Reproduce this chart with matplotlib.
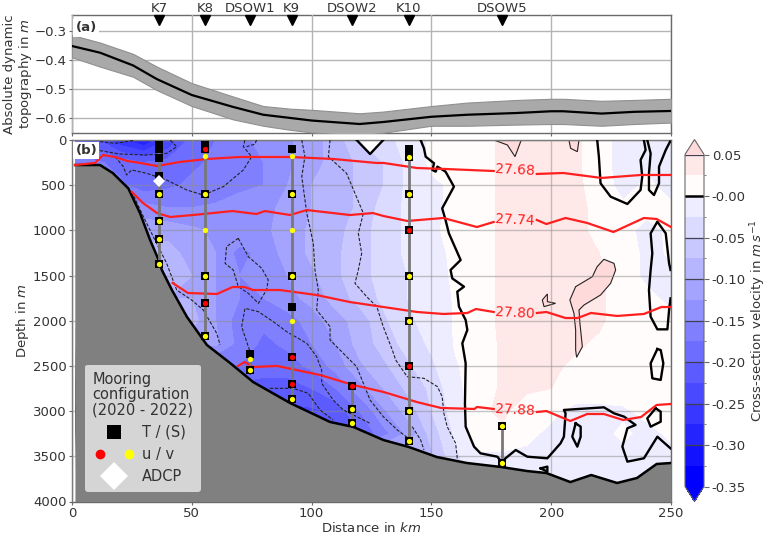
import numpy as np
import matplotlib
matplotlib.use('Agg')
import matplotlib.pyplot as plt
from matplotlib.colors import BoundaryNorm, ListedColormap
from matplotlib.legend_handler import HandlerTuple
from matplotlib.lines import Line2D
from matplotlib.ticker import FormatStrFormatter

#
## Panel (a): absolute dynamic topography along the section
#
adt_x = [0, 11.7, 25.5, 35.4, 50, 67.2, 79.8, 91, 100, 120, 130, 150, 165, 185.7, 200, 205, 221, 234.6, 250]
adt_mean = [-0.353, -0.376, -0.42, -0.467, -0.522, -0.563, -0.59, -0.601, -0.61, -0.622, -0.615, -0.597,
            -0.59, -0.584, -0.578, -0.578, -0.586, -0.58, -0.577]
adt_upper = [-0.315, -0.341, -0.38, -0.424, -0.481, -0.527, -0.56, -0.569, -0.573, -0.585, -0.579, -0.56,
             -0.548, -0.539, -0.535, -0.535, -0.542, -0.539, -0.535]
adt_lower = [-0.392, -0.424, -0.459, -0.505, -0.56, -0.606, -0.628, -0.642, -0.651, -0.662, -0.652, -0.628,
             -0.628, -0.624, -0.622, -0.622, -0.628, -0.622, -0.617]

#
## Panel (b): cross-section velocity, one list per depth
#
vel_x = [1.5, 10, 20, 30, 40, 50, 60, 70, 80, 90, 100, 110, 120, 130, 140, 150, 160, 170, 180, 190, 200, 210, 220, 230, 240, 250]
vel_depth = [0, 250, 500, 750, 1000, 1250, 1500, 1750, 2000, 2250, 2500, 2750, 3000, 3250, 3500, 3750, 4000]
vel_0000 = [-0.19, -0.22, -0.27, -0.30, -0.25, -0.19, -0.175, -0.155, -0.145, -0.13, -0.11, -0.09, -0.05, -0.03, -0.02, 0.005, 0.008, 0.015, 0.03, 0.03, 0.03, 0.03, 0.01, -0.01, -0.005, -0.01]
vel_0250 = [-0.17, -0.17, -0.185, -0.20, -0.19, -0.18, -0.17, -0.16, -0.15, -0.13, -0.11, -0.09, -0.07, -0.05, -0.02, 0.005, 0.008, 0.015, 0.03, 0.03, 0.03, 0.03, 0.01, -0.01, -0.005, -0.01]
vel_0500 = [-0.17, -0.17, -0.17, -0.19, -0.18, -0.17, -0.17, -0.155, -0.15, -0.125, -0.10, -0.09, -0.07, -0.05, -0.02, -0.005, 0.005, 0.015, 0.03, 0.03, 0.03, 0.03, 0.015, -0.01, 0.005, -0.01]
vel_0750 = [-0.14, -0.14, -0.14, -0.14, -0.15, -0.15, -0.145, -0.14, -0.13, -0.12, -0.10, -0.09, -0.07, -0.04, -0.02, -0.005, 0.005, 0.015, 0.03, 0.03, 0.03, 0.03, 0.02, 0.005, 0.005, 0.005]
vel_1000 = [-0.11, -0.11, -0.11, -0.11, -0.11, -0.12, -0.13, -0.13, -0.13, -0.115, -0.095, -0.085, -0.06, -0.04, -0.02, -0.003, 0.005, 0.015, 0.03, 0.03, 0.03, 0.03, 0.02, 0.005, -0.005, 0.003]
vel_1250 = [-0.09, -0.09, -0.09, -0.09, -0.09, -0.11, -0.125, -0.16, -0.14, -0.115, -0.095, -0.08, -0.06, -0.04, -0.02, -0.005, 0.003, 0.015, 0.03, 0.03, 0.03, 0.03, 0.025, 0.01, -0.005, 0.002]
vel_1500 = [-0.08, -0.08, -0.08, -0.08, -0.08, -0.10, -0.125, -0.15, -0.145, -0.125, -0.105, -0.08, -0.06, -0.04, -0.025, -0.008, 0.003, 0.015, 0.03, 0.03, 0.03, 0.03, 0.03, 0.01, -0.005, -0.003]
vel_1750 = [-0.10, -0.10, -0.10, -0.10, -0.10, -0.10, -0.125, -0.15, -0.15, -0.135, -0.115, -0.09, -0.065, -0.045, -0.025, -0.012, 0.002, 0.015, 0.03, 0.03, 0.03, 0.03, 0.03, 0.01, 0.005, -0.005]
vel_2000 = [-0.09, -0.09, -0.09, -0.09, -0.09, -0.09, -0.125, -0.165, -0.17, -0.16, -0.14, -0.11, -0.09, -0.055, -0.03, -0.015, 0.002, 0.015, 0.03, 0.03, 0.03, 0.03, 0.03, 0.01, 0.01, 0.005]
vel_2250 = [-0.12, -0.12, -0.12, -0.12, -0.12, -0.12, -0.12, -0.16, -0.18, -0.17, -0.15, -0.125, -0.09, -0.065, -0.04, -0.02, 0.002, 0.01, 0.03, 0.03, 0.03, 0.03, 0.02, 0.01, 0.01, 0.005]
vel_2500 = [-0.18, -0.18, -0.18, -0.18, -0.18, -0.18, -0.18, -0.175, -0.19, -0.185, -0.17, -0.14, -0.105, -0.08, -0.055, -0.03, -0.002, 0.01, 0.03, 0.03, 0.03, 0.02, 0.01, 0.01, 0.01, 0.005]
vel_2750 = [-0.21, -0.21, -0.21, -0.21, -0.21, -0.21, -0.21, -0.21, -0.21, -0.215, -0.20, -0.175, -0.135, -0.10, -0.07, -0.045, -0.005, 0.01, 0.03, 0.03, 0.025, 0.01, 0.01, 0.01, 0.01, 0.005]
vel_3000 = [-0.23, -0.23, -0.23, -0.23, -0.23, -0.23, -0.23, -0.23, -0.23, -0.23, -0.23, -0.22, -0.175, -0.13, -0.09, -0.05, -0.012, 0.02, 0.03, 0.008, 0.005, -0.005, -0.005, -0.003, 0.005, 0.005]
vel_3250 = [-0.20, -0.20, -0.20, -0.20, -0.20, -0.20, -0.20, -0.20, -0.20, -0.20, -0.20, -0.20, -0.20, -0.16, -0.12, -0.065, -0.02, 0.02, 0.02, 0.005, -0.005, -0.005, -0.005, 0.003, -0.005, 0.003]
vel_3500 = [-0.08, -0.08, -0.08, -0.08, -0.08, -0.08, -0.08, -0.08, -0.08, -0.08, -0.08, -0.08, -0.08, -0.08, -0.08, -0.08, -0.03, -0.005, -0.005, -0.005, -0.01, -0.01, -0.01, -0.005, -0.005, -0.005]
vel_3750 = [-0.03, -0.03, -0.03, -0.03, -0.03, -0.03, -0.03, -0.03, -0.03, -0.03, -0.03, -0.03, -0.03, -0.03, -0.03, -0.03, -0.03, -0.01, -0.01, -0.01, -0.01, -0.01, -0.01, -0.01, -0.01, -0.01]
vel_4000 = [-0.03, -0.03, -0.03, -0.03, -0.03, -0.03, -0.03, -0.03, -0.03, -0.03, -0.03, -0.03, -0.03, -0.03, -0.03, -0.03, -0.03, -0.01, -0.01, -0.01, -0.01, -0.01, -0.01, -0.01, -0.01, -0.01]
vel_rows = [vel_0000, vel_0250, vel_0500, vel_0750, vel_1000, vel_1250, vel_1500, vel_1750, vel_2000,
            vel_2250, vel_2500, vel_2750, vel_3000, vel_3250, vel_3500, vel_3750, vel_4000]

# Bathymetry
bathy_x = [1.3, 11.7, 17, 23.5, 28.4, 32.6, 36.7, 37.5, 41.7, 48, 56.3, 66, 75.6, 91, 107.7, 117.4, 130, 140.6,
           152.3, 164.8, 179, 190, 198, 208, 216.7, 227.5, 235.8, 244, 250]
bathy_depth = [277, 277, 365, 535, 810, 1107, 1361, 1438, 1660, 1958, 2268, 2468, 2678, 2910, 3120, 3175, 3320,
               3397, 3508, 3574, 3618, 3663, 3685, 3785, 3707, 3795, 3740, 3585, 3574]

# Isopycnals, the nan is the gap for the inline label
iso_labels = ['27.68', '27.74', '27.80', '27.88']
iso_label_depth = [332, 885, 1914, 2988]
iso_label_x = 185
iso_x = [
    [1.3, 9.6, 13, 18, 23, 28.4, 35.5, 45, 56.3, 70, 91, 109, 127, 130, 144, 155, 176, np.nan, 194, 205, 221, 237.5, 250],
    [25, 29.6, 35.5, 41, 50.5, 67, 77, 80.5, 91, 98, 116, 125.6, 130, 140, 155, 169, 176, np.nan, 194, 198, 206, 215, 226, 238.7, 244, 250],
    [42, 48.4, 60.5, 67, 72, 75.6, 86.8, 102, 116, 130, 144, 155, 165, 168.6, 176, np.nan, 194, 198, 206, 211, 216.6, 227.5, 238.7, 246, 250],
    [69.3, 72, 75.6, 85.6, 103.5, 117.4, 130, 144, 154, 168, 169, 176, np.nan, 194, 198, 208, 215, 222, 230, 237.5, 244, 250],
]
iso_depth = [
    [277, 254, 166, 188, 232, 254, 288, 243, 210, 188, 188, 210, 254, 254, 310, 320, 343, np.nan, 376, 365, 420, 387, 387],
    [575, 697, 808, 852, 830, 786, 819, 786, 830, 775, 830, 808, 841, 896, 863, 963, 907, np.nan, 885, 930, 863, 918, 1018, 863, 874, 963],
    [1582, 1693, 1704, 1627, 1627, 1660, 1660, 1715, 1793, 1848, 1903, 1925, 1914, 1870, 1903, np.nan, 1914, 1903, 1970, 1970, 1914, 1947, 1925, 1848, 1848],
    [2500, 2456, 2512, 2500, 2600, 2711, 2788, 2900, 2965, 2976, 2954, 2976, np.nan, 3010, 2999, 3109, 3032, 3032, 3098, 3065, 2932, 2921],
]

# Dashed velocity contours as (km, m)
dashed_contours = [
    [(11.7, 18), (18, 37), (25.6, 7)],
    [(3.3, 92), (11.7, 118), (20, 155), (31.2, 166), (39.5, 148), (43.7, 74), (40.9, 0)],
    [(18, 184), (21.4, 295), (22.8, 387), (24.9, 332), (31.2, 369), (39.5, 443), (47.9, 553), (54.8, 609),
     (63.2, 516), (71.5, 332), (75, 184), (71.5, 74), (72.2, 0)],
    [(77, 0), (76.4, 44), (72.9, 74)],
    [(24.9, 572), (29.8, 848), (35.3, 1143), (39.5, 1365), (43.7, 1660), (49.9, 1770), (54.8, 1881), (60.4, 2139), (61.8, 2268)],
    [(69.4, 1088), (73.6, 1291), (79.2, 1420), (81.9, 1549), (81.2, 1660), (77.8, 1807), (73.6, 1697), (69.4, 1623),
     (67.3, 1438), (63.9, 1365), (64.5, 1180), (69.4, 1088)],
    [(74.3, 2600), (75, 2397), (73.6, 2287), (70.8, 2065), (72.2, 1863), (77.8, 1900), (84, 2010), (89.6, 2121), (98, 2250),
     (102.1, 2397), (104.2, 2545), (104.2, 2692), (109, 2877), (113.2, 2987), (124.4, 3135)],
    [(82.6, 2748), (92.4, 2748), (98.6, 2803), (103.5, 2987), (109, 3098)],
    [(95.9, 0), (97.2, 184), (95.9, 406), (98, 811), (100.7, 1143), (101.4, 1438), (102.8, 1660), (102.1, 1881), (107.7, 2065),
     (107.7, 2213), (114.6, 2397), (118.8, 2508), (121.6, 2692), (124.4, 2877), (129.9, 3061), (135.8, 3209), (141.3, 3319)],
    [(107.7, 0), (107, 184), (114.6, 369), (121.6, 811), (119.5, 1033), (120.9, 1254), (119.5, 1438), (118.1, 1586), (123, 1734),
     (127.2, 1844), (129.9, 2065), (133.7, 2324), (135.1, 2434), (139.9, 2619), (146.9, 2637), (152.5, 2729), (154.5, 2840),
     (155.2, 3024), (156.6, 3172), (160.1, 3356), (160.8, 3522)],
    [(142, 3172), (145.5, 3319), (146.9, 3430)],
]

# Zero contour as (km, m)
zero_contours = [
    [(118.8, 0), (124.4, 155), (129.9, 0)],
    [(145.5, 0), (146.9, 92), (147.6, 184), (151.1, 258), (150.4, 332), (151.8, 350), (152.5, 295), (155.9, 350), (159.4, 516),
     (154.5, 756), (155.9, 885), (157.3, 1033), (162.2, 1328), (158, 1438), (158.7, 1531), (163.6, 1623), (160.8, 1678),
     (161.5, 1844), (164.3, 1992), (165, 2102), (162.9, 2250), (164.3, 2471), (164, 2914), (164.3, 3172), (167.8, 3393),
     (170.5, 3467), (177.5, 3504), (179.2, 3559), (185.2, 3430), (190, 3504), (198.4, 3522), (203.9, 3356), (205.3, 3283),
     (206, 3024), (205.3, 2987), (222, 2958), (226.2, 3024), (230.4, 3061), (235.2, 3153), (231.8, 3190), (229.7, 3393),
     (231.8, 3559), (238.7, 3522), (244.3, 3283), (249.8, 3412)],
    [(219.2, 0), (219.9, 184), (220.6, 479), (224.8, 627), (231.8, 708), (237.3, 553), (238, 406), (237.3, 221), (239.4, 111), (238.7, 0)],
    [(240.1, 0), (241.5, 148), (240.8, 369), (240.8, 553), (242.9, 609), (245, 479), (245, 295), (247.8, 111), (249.6, 18)],
    [(249.8, 1752), (249.2, 1881), (248.5, 2095), (244.3, 2095), (241.5, 1955), (240.8, 1660), (241.5, 1438), (242.2, 1254),
     (241.5, 1033), (244.3, 904), (247.8, 1033), (249.2, 1365), (249.8, 1438)],
    [(244.3, 2313), (241.5, 2471), (242.2, 2637), (245.7, 2655), (246.8, 2471), (245.7, 2324), (244.3, 2313)],
    [(243.6, 2969), (240.1, 3080), (241.5, 3172), (245.7, 3117), (245.7, 3006), (243.6, 2969)],
    [(210.2, 3135), (208.8, 3283), (210.9, 3393), (212.3, 3283), (212.3, 3172), (210.2, 3135)],
    [(195.6, 3633), (198.4, 3614), (198.4, 3670), (195.6, 3633)],
]

# Patches above the top level, thin outline and over colour
pink_patches = [
    [(219.2, 1401), (222, 1320), (226.2, 1365), (226.9, 1438), (224.8, 1586), (220.6, 1715), (213.7, 1826), (211.6, 1881),
     (212, 2029), (213, 2287), (210.6, 2405), (210.2, 2324), (210.2, 2102), (209.5, 1918), (207.8, 1770), (210.2, 1623),
     (217.2, 1512), (218.5, 1438)],
    [(198.4, 1704), (196.3, 1770), (197, 1844), (201.8, 1807), (198.4, 1789)],
    [(176.1, 0), (181.7, 55), (184.9, 184), (187.5, 0)],
    [(207.4, 0), (208.1, 92), (210.9, 129), (211.6, 0)],
]
notch = [(118.8, 0), (124.4, 155), (129.9, 0)]

# Moorings
mooring_names = ['K7', 'K8', 'DSOW1', 'K9', 'DSOW2', 'K10', 'DSOW5']
mooring_x = [36.4, 55.6, 74.3, 91.7, 116.7, 140.6, 179.3]
t_depths = [
    [50, 100, 200, 400, 600, 900, 1100, 1370],
    [50, 100, 600, 1500, 1800, 2170],
    [2370, 2550],
    [100, 600, 1500, 1850, 2400, 2700, 2870],
    [2720, 2980, 3130],
    [100, 190, 600, 1000, 1500, 2000, 2500, 3000, 3330],
    [3170, 3570],
]
u_depths = [[], [100, 1800], [], [2400, 2700], [2720], [1000, 2500], []]
v_depths = [
    [600, 900, 1100, 1370],
    [180, 600, 1000, 1500, 2170],
    [2420, 2550],
    [180, 600, 1000, 1500, 2000, 2870],
    [2980, 3130],
    [190, 600, 1500, 2000, 3000, 3330],
    [3170, 3570],
]
adcp_x = [36.4]
adcp_depth = [450]

levels = np.arange(-0.35, 0.0501, 0.025)
textcol = '#333333'
spinecol = '#6a6a6a'
gridcol = '#b4b4b4'

plt.rcParams['font.size'] = 9.5
plt.rcParams['text.color'] = textcol
plt.rcParams['axes.labelcolor'] = textcol
plt.rcParams['xtick.color'] = textcol
plt.rcParams['ytick.color'] = textcol

fig = plt.figure(figsize=(7.68, 5.41), dpi=100)
ax_a = fig.add_axes([72/768, 1-133/541, 599/768, 118/541])
ax_b = fig.add_axes([72/768, 1-501.5/541, 599/768, 361.5/541])
cax = fig.add_axes([685/768, 1-501.5/541, 19/768, 362/541])

#
### Panel (a)
#
ax_a.fill_between(adt_x, adt_lower, adt_upper, facecolor='#a9a9a9', edgecolor='#909090', lw=0.8, zorder=3)
ax_a.plot(adt_x, adt_mean, color='black', lw=1.6, zorder=4)
ax_a.set_xlim(0, 250)
ax_a.set_ylim(-0.653, -0.246)
ax_a.set_yticks([-0.3, -0.4, -0.5, -0.6])
ax_a.set_xticks([0, 50, 100, 150, 200, 250])
ax_a.set_xticklabels([])
ax_a.grid(True, color=gridcol, lw=1)
ax_a.set_axisbelow(False)
ax_a.tick_params(length=2, color=spinecol, labelsize=9.5, pad=2)
ax_a.set_ylabel('Absolute dynamic\ntopography in $m$', fontsize=9.5, linespacing=1.1)
ax_a.yaxis.set_label_coords(-0.063, 0.5)
ax_a.text(0.006, 0.945, '(a)', transform=ax_a.transAxes, fontweight='bold', va='top', ha='left', zorder=6,
          bbox=dict(facecolor='white', edgecolor='none', pad=1.5))

top = ax_a.get_xaxis_transform()
ax_a.plot(mooring_x, [0.958]*len(mooring_x), 'v', color='black', ms=6.5, transform=top, clip_on=False, zorder=6)
for i in range(len(mooring_names)):
    ax_a.text(mooring_x[i], 1.051, mooring_names[i], transform=top, ha='center', va='center', fontsize=9.5)

#
### Panel (b)
#
# colour of a band is taken at its lower level, as in the colorbar
band_cols = []
for lo in levels[:-1]:
    if lo < -1e-6:
        c = 1 + lo/0.35
        band_cols.append((c, c, 1.0))
    elif lo < 0.01:
        band_cols.append((1.0, 0.99, 0.985))
    else:
        band_cols.append((1.0, 0.91, 0.91))
cmap = ListedColormap(band_cols)
cmap.set_under((0, 0, 1))
cmap.set_over((1.0, 0.855, 0.855))
norm = BoundaryNorm(levels, cmap.N)

cf = ax_b.contourf(vel_x, vel_depth, np.array(vel_rows), levels=levels, cmap=cmap, norm=norm, extend='both', zorder=1)

for poly in pink_patches:
    ax_b.fill([p[0] for p in poly], [p[1] for p in poly], facecolor=(1.0, 0.855, 0.855), edgecolor='#222222', lw=0.8, zorder=1.5)
ax_b.fill([p[0] for p in notch], [p[1] for p in notch], facecolor='white', edgecolor='none', zorder=1.5)

ax_b.grid(True, color='#8c8c8c', lw=1, alpha=0.5)
ax_b.set_axisbelow(False)

for line in dashed_contours:
    ax_b.plot([p[0] for p in line], [p[1] for p in line], color='#222222', lw=0.8, ls=(0, (3, 1.5)), zorder=2.7)
for line in zero_contours:
    ax_b.plot([p[0] for p in line], [p[1] for p in line], color='black', lw=1.7, zorder=2.8)

ax_b.fill_between(bathy_x, bathy_depth, 4000, color='#808080', lw=0, zorder=3)
ax_b.plot(bathy_x, bathy_depth, color='black', lw=1.8, zorder=3.1)

for i in range(len(iso_labels)):
    ax_b.plot(iso_x[i], iso_depth[i], color='#ff1f1f', lw=1.6, zorder=4)
    ax_b.text(iso_label_x, iso_label_depth[i], iso_labels[i], color='#ff1f1f', fontsize=10, ha='center', va='center',
              rotation=-3, zorder=4)

for i in range(len(mooring_x)):
    tops = t_depths[i] + v_depths[i]
    ax_b.plot([mooring_x[i], mooring_x[i]], [min(tops), max(tops)], color='#787878', lw=2, zorder=5)
    ax_b.plot([mooring_x[i]]*len(t_depths[i]), t_depths[i], 's', color='black', ms=5.8, mew=0, zorder=6, clip_on=False)
    ax_b.plot([mooring_x[i]]*len(u_depths[i]), u_depths[i], 'o', color='red', ms=3.8, mew=0, zorder=7)
    ax_b.plot([mooring_x[i]]*len(v_depths[i]), v_depths[i], 'o', color='#ffff00', ms=3.8, mew=0, zorder=7)
ax_b.plot(adcp_x, adcp_depth, 'D', color='white', ms=6, mew=0, zorder=6.5)

ax_b.set_xlim(0, 250)
ax_b.set_ylim(4000, 0)
ax_b.set_xticks([0, 50, 100, 150, 200, 250])
ax_b.set_yticks([0, 500, 1000, 1500, 2000, 2500, 3000, 3500, 4000])
ax_b.tick_params(length=2, color=spinecol, labelsize=9.5, pad=2)
ax_b.set_xlabel('Distance in $km$', fontsize=9.5, labelpad=1)
ax_b.set_ylabel('Depth in $m$', fontsize=9.5)
ax_b.yaxis.set_label_coords(-0.068, 0.5)
ax_b.text(0.006, 0.988, '(b)', transform=ax_b.transAxes, fontweight='bold', va='top', ha='left', zorder=8,
          bbox=dict(facecolor='white', edgecolor='none', pad=1.5))

for ax in [ax_a, ax_b]:
    for s in ax.spines.values():
        s.set_color(spinecol)
        s.set_linewidth(1)

# legend
h_t = Line2D([], [], marker='s', color='black', ls='none', ms=10, mew=0)
h_u = Line2D([], [], marker='o', color='red', ls='none', ms=7, mew=0)
h_v = Line2D([], [], marker='o', color='#ffff00', ls='none', ms=7, mew=0)
h_a = Line2D([], [], marker='D', color='white', ls='none', ms=14, mew=0)
leg = ax_b.legend([h_t, (h_u, h_v), h_a], ['T / (S)', 'u / v', 'ADCP'],
                  handler_map={tuple: HandlerTuple(ndivide=None, pad=1.0)},
                  title='Mooring\nconfiguration\n(2020 - 2022)', alignment='left',
                  loc='lower left', bbox_to_anchor=(13/599, 10/361.5), borderaxespad=0,
                  fontsize=10.5, title_fontsize=10.5, framealpha=0.68, facecolor='white', edgecolor='none',
                  handlelength=3.0, handletextpad=0.4, labelspacing=0.5, borderpad=0.5)
leg.get_title().set_linespacing(1.02)
leg.set_zorder(10)

#
### Colorbar
#
cbar = fig.colorbar(cf, cax=cax, extend='both', extendfrac=15/332, ticks=np.arange(-0.35, 0.051, 0.05))
cbar.ax.set_yticks(levels, minor=True)
cbar.ax.tick_params(which='major', length=3.5, color=spinecol, labelsize=9.5, pad=2)
cbar.ax.tick_params(which='minor', length=1.5, color=spinecol)
cbar.ax.yaxis.set_major_formatter(FormatStrFormatter('%.2f'))
cbar.outline.set_edgecolor(spinecol)
cbar.set_label('Cross-section velocity in $m\\,s^{-1}$', fontsize=9.5, labelpad=1.5)
for lev in np.arange(-0.30, 0.051, 0.05):
    if abs(lev) < 1e-6:
        cbar.ax.axhline(lev, color='black', lw=1.8)
    else:
        cbar.ax.axhline(lev, color='#404050', lw=0.9)

fig.savefig('out.png', dpi=100)
